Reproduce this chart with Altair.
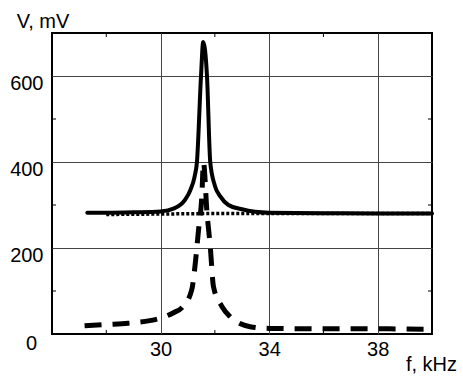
import altair as alt
import pandas as pd

# Solid curve (total voltage)
solid_f = [27.3, 28.0, 29.0, 30.0, 30.5, 30.9, 31.1, 31.25, 31.34, 31.49, 31.57, 31.71, 31.83, 32.0, 32.2, 32.5, 33.0, 34.0, 36.0, 38.0, 40.0]
solid_v = [282, 282, 283, 285, 292, 312, 335, 365, 400, 600, 679, 600, 400, 345, 320, 300, 290, 282, 281, 280, 280]

# Dotted curve (baseline)
dotted_f = [28.0, 30.0, 31.5, 33.0, 36.0, 40.0]
dotted_v = [278, 279, 280, 280, 280, 280]

# Dashed curve (resonance)
dashed_f = [27.2, 28.0, 28.8, 29.6, 30.0, 30.46, 30.83, 31.15, 31.28, 31.4, 31.52, 31.58, 31.71, 31.83, 31.95, 32.26, 32.57, 33.3, 34.0, 36.0, 38.0, 40.0]
dashed_v = [19, 22, 25, 31, 37, 49, 64, 103, 165, 243, 320, 399, 282, 204, 110, 64, 40, 17, 13, 12, 12, 11]

x_major = [30, 34, 38]
y_major = [200, 400, 600]
x_minor = [28, 32, 36]
y_minor = [100, 300, 500]

W, H = 380, 301
FONT = "Liberation Sans"
FS = 20

df_solid = pd.DataFrame({"f": solid_f, "v": solid_v})
df_dot = pd.DataFrame({"f": dotted_f, "v": dotted_v})
df_dash = pd.DataFrame({"f": dashed_f, "v": dashed_v})
df_xminor = pd.DataFrame({"f": x_minor})
df_yminor = pd.DataFrame({"v": y_minor})
df_zero = pd.DataFrame({"f": [26], "v": [0], "t": ["0"]})

xs = alt.Scale(domain=[26, 40], nice=False, zero=False)
ys = alt.Scale(domain=[0, 700], nice=False)

x_axis = alt.Axis(values=x_major, grid=True, ticks=False, tickSize=0, domain=False,
                  labelFont=FONT, labelFontSize=FS, labelColor="black", labelPadding=15,
                  labelBaseline="middle", labelFlush=False, labelOverlap=False,
                  title="f, kHz", titleFont=FONT, titleFontSize=FS, titleFontWeight="normal",
                  titleColor="black", titleX=379, titleY=30, titleAlign="center",
                  titleBaseline="middle")
y_axis = alt.Axis(values=y_major, grid=True, ticks=False, tickSize=0, domain=False,
                  labelFont=FONT, labelFontSize=FS, labelColor="black", labelPadding=9,
                  labelBaseline="middle", labelOffset=7, labelFlush=False, labelOverlap=False,
                  title="V, mV", titleFont=FONT, titleFontSize=FS, titleFontWeight="normal",
                  titleColor="black", titleAngle=0, titleX=-9.5, titleY=-11.5,
                  titleAlign="center", titleBaseline="middle")

dash = alt.Chart(df_dash).mark_line(color="black", strokeWidth=5, strokeDash=[17, 11],
                                    interpolate="monotone").encode(
    x=alt.X("f:Q", scale=xs, axis=x_axis),
    y=alt.Y("v:Q", scale=ys, axis=y_axis),
)
dot = alt.Chart(df_dot).mark_line(color="black", strokeWidth=3.5, strokeDash=[3, 2]).encode(
    x=alt.X("f:Q", scale=xs), y=alt.Y("v:Q", scale=ys))
solid = alt.Chart(df_solid).mark_line(color="black", strokeWidth=4, strokeJoin="round",
                                      strokeCap="round", interpolate="monotone").encode(
    x=alt.X("f:Q", scale=xs), y=alt.Y("v:Q", scale=ys))

tick_bottom = alt.Chart(df_xminor).mark_rule(color="black", strokeWidth=1).encode(
    x=alt.X("f:Q", scale=xs), y=alt.value(H), y2=alt.value(H - 4))
tick_top = alt.Chart(df_xminor).mark_rule(color="black", strokeWidth=1).encode(
    x=alt.X("f:Q", scale=xs), y=alt.value(0), y2=alt.value(4))
tick_left = alt.Chart(df_yminor).mark_rule(color="black", strokeWidth=1).encode(
    y=alt.Y("v:Q", scale=ys), x=alt.value(0), x2=alt.value(4))
tick_right = alt.Chart(df_yminor).mark_rule(color="black", strokeWidth=1).encode(
    y=alt.Y("v:Q", scale=ys), x=alt.value(W - 4), x2=alt.value(W))

zero = alt.Chart(df_zero).mark_text(font=FONT, fontSize=FS, color="black", dx=-20.5, dy=9.5,
                                    align="center", baseline="middle").encode(
    x=alt.X("f:Q", scale=xs), y=alt.Y("v:Q", scale=ys), text="t:N")

chart = alt.layer(dash, dot, solid, tick_bottom, tick_top, tick_left, tick_right, zero).properties(
    width=W, height=H,
    autosize=alt.AutoSizeParams(type="none"),
    padding={"left": 52, "top": 33, "right": 31, "bottom": 42},
    background="white",
).configure_view(stroke="black", strokeWidth=2).configure_axis(
    gridColor="#444444", gridWidth=1, gridOpacity=1
)

chart.save("out.html", embed_options={"renderer": "svg", "actions": False})
